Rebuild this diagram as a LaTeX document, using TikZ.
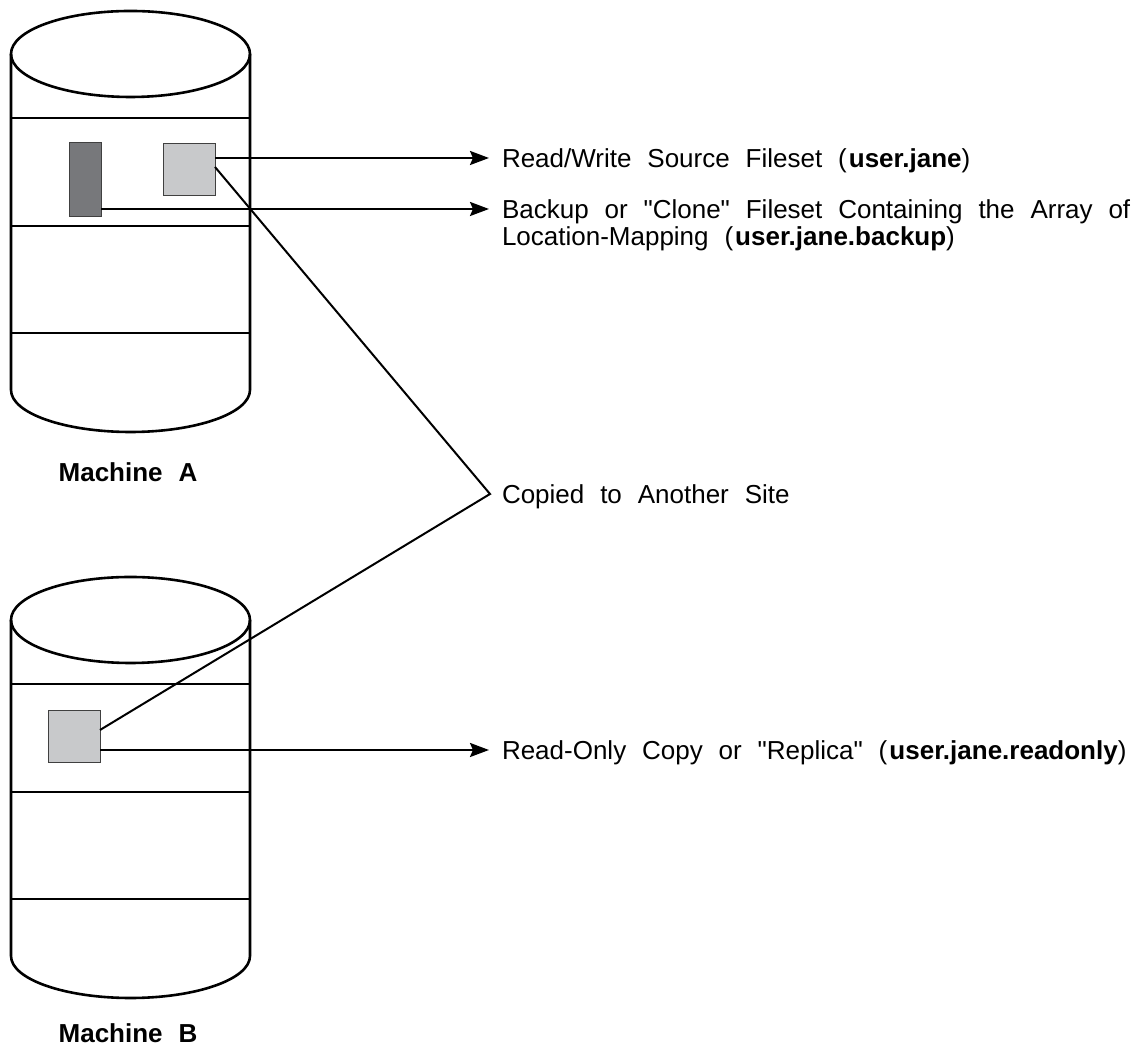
\documentclass[tikz,border=0pt]{standalone}
\usepackage{fontspec}
\setmainfont{Liberation Sans}[WordSpace=2.2]
\usetikzlibrary{arrows.meta,calc}

\definecolor{lightfs}{HTML}{C8C9CB}
\definecolor{darkfs}{HTML}{77787B}

\tikzset{
  disk/.style={line width=2.6pt},
  shelf/.style={line width=1.3pt},
  fsbox/.style={draw=black!75, line width=1pt, inner sep=0pt, outer sep=0pt},
  lab/.style={anchor=west, inner xsep=13pt, inner ysep=0pt, outer sep=0pt,
    text height=18.6pt, text depth=0pt, font=\fontsize{26}{27}\selectfont},
  mlab/.style={anchor=base, inner sep=0pt, font=\fontsize{26}{27}\selectfont\bfseries},
  conn/.style={line width=2.4pt, -{Stealth[length=19pt,width=14pt,inset=3pt]}},
  diag/.style={line width=2pt, line join=miter},
  diskstack/.pic={
    % top cap, body and bottom rim of the disk
    \draw[disk] (0,0) ellipse [x radius=119.5pt, y radius=43pt];
    \draw[disk] (-119.5,0) -- (-119.5,-336)
      arc[start angle=180, end angle=360, x radius=119.5pt, y radius=42pt]
      -- (119.5,0);
    % partitions
    \draw[shelf] (-119.5,-64)  -- (119.5,-64);
    \draw[shelf] (-119.5,-172) -- (119.5,-172);
    \draw[shelf] (-119.5,-279) -- (119.5,-279);
  }
}

\begin{document}
\begin{tikzpicture}[x=1pt,y=1pt]
  \useasboundingbox[fill=white] (0,0) rectangle (1138,1049);

  % the two machines
  \pic (diskA) at (130.5,995) {diskstack};
  \pic (diskB) at (130.5,429) {diskstack};
  \node[mlab] (machA) at (128,567) {Machine  A};
  \node[mlab] (machB) at (128,6)   {Machine  B};

  % filesets
  \node[fsbox, fill=lightfs, minimum width=52pt, minimum height=52pt] (rw) at (189,879) {};
  \node[fsbox, fill=darkfs,  minimum width=32pt, minimum height=74pt] (bk) at (85,869) {};
  \node[fsbox, fill=lightfs, minimum width=52pt, minimum height=52pt] (ro) at (74,312) {};

  % labels
  \node[lab] (rwlab) at (489,891) {Read/Write Source Fileset (\hspace{2pt}\textbf{user.jane})};
  \node[lab] (bklabA) at (489,840) {Backup or \textquotedbl Clone\textquotedbl\ Fileset Containing the Array of};
  \node[lab] (bklabB) at (489,813) {Location-Mapping (\hspace{2pt}\textbf{user.jane.backup})};
  \node[lab] (rolab) at (489,299) {Read-Only Copy or \textquotedbl Replica\textquotedbl\ (\hspace{2pt}\textbf{user.jane.readonly})};

  \coordinate (vtx) at (490,555);
  \node[lab, inner xsep=12pt] (cplab) at (vtx) {Copied to Another Site};

  % connectors
  \draw[conn] (rw.east |- rwlab.west) -- (rwlab.west);
  \draw[conn] (bk.east |- bklabA.west) -- (bklabA.west);
  \draw[conn] (ro.east |- rolab.west) -- (rolab.west);
  \draw[diag] ([yshift=3pt]rw.east) -- (vtx) -- ([yshift=7pt]ro.east);
\end{tikzpicture}
\end{document}
